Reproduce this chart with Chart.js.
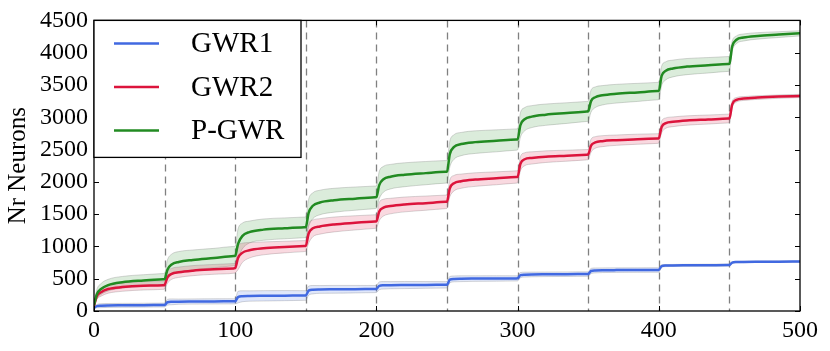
<!DOCTYPE html>
<html lang="en">
  <head>
    <meta charset="UTF-8" />
    <title>Nr Neurons</title>
    <style>
      body {
        margin: 0;
        background: #fff;
      }
      .chart {
        width: 830px;
        height: 351px;
      }
    </style>
  </head>
  <body>
    <div class="chart">
      <canvas id="myChart"></canvas>
    </div>
  </body>
  <script src="https://cdn.jsdelivr.net/npm/chart.js"></script>

  <script>
    // epochs sampled in each 50-epoch block
    const epochs = [
      0, 2, 5, 10, 20, 35, 49,
      50, 52, 55, 60, 70, 85, 99,
      100, 102, 105, 110, 120, 135, 149,
      150, 152, 155, 160, 170, 185, 199,
      200, 202, 205, 210, 220, 235, 249,
      250, 252, 255, 260, 270, 285, 299,
      300, 302, 305, 310, 320, 335, 349,
      350, 352, 355, 360, 370, 385, 399,
      400, 402, 405, 410, 420, 435, 449,
      450, 452, 455, 460, 470, 485, 500,
    ];

    const gwr1 = [
      50, 75, 82, 86, 88, 90, 92,
      93, 135, 142, 145, 147, 149, 150,
      151, 215, 228, 232, 235, 238, 240,
      241, 315, 330, 334, 336, 338, 340,
      341, 390, 398, 400, 402, 404, 405,
      406, 485, 497, 500, 502, 504, 505,
      506, 555, 563, 566, 568, 570, 572,
      573, 620, 628, 631, 633, 634, 635,
      636, 695, 703, 706, 708, 710, 711,
      712, 750, 758, 760, 762, 764, 765,
    ];
    const gwr1Sd = [
      10, 25, 30, 30, 30, 30, 30,
      30, 45, 45, 40, 40, 40, 40,
      40, 90, 85, 80, 80, 78, 75,
      75, 70, 65, 60, 60, 58, 55,
      55, 60, 58, 55, 55, 52, 50,
      50, 50, 45, 45, 43, 42, 40,
      40, 40, 38, 36, 35, 35, 35,
      35, 40, 38, 36, 35, 35, 35,
      35, 20, 16, 15, 15, 15, 15,
      15, 12, 10, 10, 10, 10, 10,
    ];

    const gwr2 = [
      80, 230, 290, 340, 370, 390, 400,
      405, 520, 575, 600, 625, 645, 660,
      665, 820, 900, 940, 970, 990, 1005,
      1010, 1200, 1280, 1310, 1340, 1365, 1385,
      1390, 1540, 1600, 1625, 1650, 1670, 1690,
      1695, 1900, 1980, 2010, 2035, 2055, 2075,
      2080, 2280, 2350, 2370, 2390, 2405, 2420,
      2425, 2560, 2610, 2630, 2645, 2660, 2670,
      2675, 2850, 2910, 2930, 2950, 2965, 2980,
      2985, 3200, 3270, 3290, 3305, 3320, 3330,
    ];
    const gwr2Sd = [
      10, 50, 60, 65, 65, 65, 65,
      65, 90, 85, 80, 78, 76, 75,
      75, 180, 150, 120, 100, 90, 85,
      85, 150, 130, 120, 115, 110, 105,
      105, 140, 130, 120, 115, 110, 105,
      105, 130, 120, 110, 105, 100, 95,
      95, 110, 100, 95, 90, 85, 80,
      80, 100, 90, 85, 80, 78, 75,
      75, 90, 80, 75, 72, 70, 68,
      68, 50, 35, 30, 28, 26, 25,
    ];

    const pgwr = [
      90, 260, 340, 400, 445, 472, 490,
      495, 640, 720, 760, 790, 820, 850,
      855, 1040, 1160, 1222, 1260, 1280, 1295,
      1300, 1520, 1630, 1680, 1715, 1740, 1760,
      1765, 1950, 2040, 2080, 2110, 2135, 2155,
      2160, 2430, 2540, 2585, 2615, 2635, 2655,
      2660, 2880, 2970, 3010, 3040, 3065, 3090,
      3095, 3250, 3310, 3340, 3365, 3385, 3405,
      3410, 3640, 3720, 3755, 3785, 3805, 3825,
      3830, 4100, 4200, 4235, 4260, 4280, 4300,
    ];
    const pgwrSd = [
      10, 70, 85, 90, 90, 90, 90,
      90, 150, 160, 160, 155, 150, 150,
      150, 230, 200, 170, 165, 162, 160,
      160, 210, 200, 190, 185, 180, 175,
      175, 210, 200, 190, 185, 180, 175,
      175, 200, 190, 180, 175, 170, 165,
      165, 190, 180, 170, 165, 160, 155,
      155, 170, 160, 150, 145, 140, 135,
      135, 150, 140, 130, 125, 120, 115,
      115, 80, 60, 55, 50, 45, 40,
    ];

    const blockLines = [50, 100, 150, 200, 250, 300, 350, 400, 450];
    const xTicks = [0, 100, 200, 300, 400, 500];
    const yTicks = [0, 500, 1000, 1500, 2000, 2500, 3000, 3500, 4000, 4500];

    const seriesNames = ["GWR1", "GWR2", "P-GWR"];
    const seriesColors = ["#4169e1", "#dc143c", "#228b22"];
    const bandColors = [
      "rgba(65, 105, 225, 0.16)",
      "rgba(220, 20, 60, 0.16)",
      "rgba(34, 139, 34, 0.16)",
    ];

    const FONT = "'Liberation Serif', 'Times New Roman', serif";
    Chart.defaults.font.family = FONT;
    Chart.defaults.color = "#000";

    function pts(vals, sd, sign) {
      return epochs.map((e, i) => ({ x: e, y: vals[i] + sign * (sd ? sd[i] : 0) }));
    }

    function makeDatasets() {
      const means = [gwr1, gwr2, pgwr];
      const sds = [gwr1Sd, gwr2Sd, pgwrSd];
      const sets = [];
      // lines first (drawn on top thanks to low order)
      means.forEach((m, i) => {
        sets.push({
          label: seriesNames[i],
          data: pts(m, null, 0),
          borderColor: seriesColors[i],
          borderWidth: 2.5,
          pointRadius: 0,
          fill: false,
          cubicInterpolationMode: "monotone",
          order: 3 - i,
        });
      });
      means.forEach((m, i) => {
        sets.push({
          label: seriesNames[i] + " up",
          data: pts(m, sds[i], 1),
          borderColor: "rgba(140, 140, 140, 0.35)",
          borderWidth: 1,
          backgroundColor: bandColors[i],
          pointRadius: 0,
          fill: "+1",
          cubicInterpolationMode: "monotone",
          order: 10 + i * 2,
        });
        sets.push({
          label: seriesNames[i] + " low",
          data: pts(m, sds[i], -1),
          borderColor: "rgba(140, 140, 140, 0.35)",
          borderWidth: 1,
          pointRadius: 0,
          fill: false,
          cubicInterpolationMode: "monotone",
          order: 11 + i * 2,
        });
      });
      return sets;
    }

    const framePlugin = {
      id: "frame",
      beforeDatasetsDraw(chart) {
        const { ctx, chartArea: a, scales } = chart;
        ctx.save();
        ctx.strokeStyle = "#808080";
        ctx.lineWidth = 1.3;
        ctx.setLineDash([7, 5]);
        blockLines.forEach((v) => {
          const x = Math.round(scales.x.getPixelForValue(v)) + 0.5;
          ctx.beginPath();
          ctx.moveTo(x, a.top);
          ctx.lineTo(x, a.bottom);
          ctx.stroke();
        });
        ctx.restore();
      },
      afterDatasetsDraw(chart) {
        const { ctx, chartArea: a, scales } = chart;
        ctx.save();
        ctx.strokeStyle = "#000";
        ctx.lineWidth = 1;
        // inward ticks
        yTicks.forEach((v) => {
          const y = Math.round(scales.y.getPixelForValue(v)) + 0.5;
          ctx.beginPath();
          ctx.moveTo(a.left, y);
          ctx.lineTo(a.left + 5, y);
          ctx.moveTo(a.right, y);
          ctx.lineTo(a.right - 5, y);
          ctx.stroke();
        });
        xTicks.forEach((v) => {
          const x = Math.round(scales.x.getPixelForValue(v)) + 0.5;
          ctx.beginPath();
          ctx.moveTo(x, a.bottom);
          ctx.lineTo(x, a.bottom - 5);
          ctx.moveTo(x, a.top);
          ctx.lineTo(x, a.top + 5);
          ctx.stroke();
        });
        ctx.lineWidth = 1.3;
        ctx.strokeRect(a.left, a.top, a.right - a.left, a.bottom - a.top);

        // legend box
        const lx = a.left, ly = a.top, lw = 207, lh = 137;
        ctx.fillStyle = "#fff";
        ctx.fillRect(lx, ly, lw, lh);
        ctx.strokeRect(lx, ly, lw, lh);
        ctx.font = "29px " + FONT;
        ctx.textBaseline = "middle";
        seriesNames.forEach((n, i) => {
          const y = ly + 23 + i * 43.5;
          ctx.strokeStyle = seriesColors[i];
          ctx.lineWidth = 2.5;
          ctx.beginPath();
          ctx.moveTo(lx + 20, y);
          ctx.lineTo(lx + 65, y);
          ctx.stroke();
          ctx.fillStyle = "#000";
          ctx.fillText(n, lx + 97, y + 1);
        });
        ctx.restore();
      },
    };

    const ctx = document.getElementById("myChart");
    const chart = new Chart(ctx, {
      type: "line",
      data: { datasets: makeDatasets() },
      options: {
        responsive: true,
        maintainAspectRatio: false,
        animation: false,
        layout: { padding: { left: 0, right: 30, top: 20, bottom: 0 } },
        plugins: {
          legend: { display: false },
          tooltip: { enabled: false },
        },
        scales: {
          x: {
            type: "linear",
            min: 0,
            max: 500,
            afterFit(s) {
              s.height = 40;
            },
            afterBuildTicks(s) {
              s.ticks = xTicks.map((v) => ({ value: v }));
            },
            grid: { display: false, drawTicks: false },
            border: { display: false },
            ticks: {
              color: "#000",
              padding: 5,
              maxRotation: 0,
              font: { family: FONT, size: 24 },
              callback: (v) => String(v),
            },
          },
          y: {
            min: 0,
            max: 4500,
            afterFit(s) {
              s.width = 94;
            },
            afterBuildTicks(s) {
              s.ticks = yTicks.map((v) => ({ value: v }));
            },
            grid: { display: false, drawTicks: false },
            border: { display: false },
            title: {
              display: true,
              text: "Nr Neurons",
              color: "#000",
              padding: { top: 3, bottom: 0 },
              font: { family: FONT, size: 25 },
            },
            ticks: {
              color: "#000",
              padding: 6,
              font: { family: FONT, size: 24 },
              callback: (v) => String(v),
            },
          },
        },
      },
      plugins: [framePlugin],
    });
  </script>
</html>
